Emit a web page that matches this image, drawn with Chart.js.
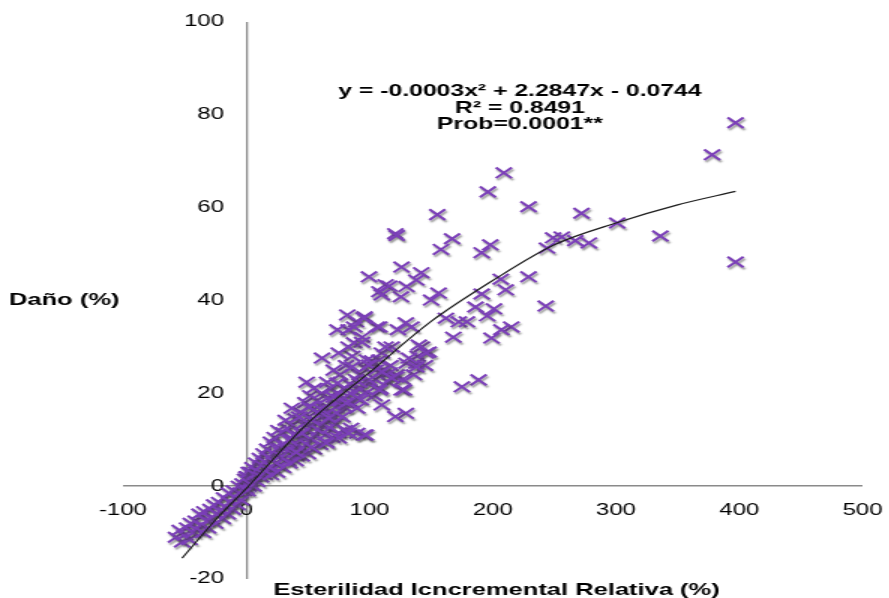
<!DOCTYPE html>
<html lang="es">
<head>
<meta charset="UTF-8">
<title>Daño vs Esterilidad Incremental Relativa</title>
<script src="https://cdn.jsdelivr.net/npm/chart.js"></script>
<style>
  html, body { margin: 0; padding: 0; background: #fff; overflow: hidden; }
  /* the original picture is stretched sideways, so is this one */
  #lienzo { width: 593px; height: 598px; transform: scaleX(1.5); transform-origin: 0 0; }
</style>
</head>
<body>
<div id="lienzo"><canvas id="grafico" width="593" height="598"></canvas></div>
<script>
// ticks
const ticksX = [-100, 0, 100, 200, 300, 400, 500];
const ticksY = [-20, 0, 20, 40, 60, 80, 100];

const puntosNegativos = [
  [-57,-11],[-54,-9.5],[-52,-12],[-50,-10.5],[-48,-9],[-46,-11.5],[-45,-8],[-43,-10],[-41,-7.5],[-40,-9.5],
  [-38,-6],[-37,-8.5],[-35,-10],[-34,-5.5],[-32,-7.5],[-31,-9],[-29,-5],[-28,-7],[-26,-4],[-25,-8],
  [-24,-6],[-22,-3.5],[-21,-5.5],[-19,-7],[-18,-2.5],[-17,-4.5],[-15,-6],[-14,-1.5],[-13,-3.5],[-11,-5],
  [-10,-1],[-9,-2.5],[-7,-4],[-6,0],[-5,-1.5],[-4,-3],[-3,0.5],[-2,-1],[-1,1.5],[0,-0.5],
  [1,2],[2,0],[3,1],[4,3]
];

const puntosBanda = [
  [0,2],[1,-1],[2,3],[3,0.5],[5,4],[6,0],[7,2.5],[8,5],[9,1],[10,3],[11,6],[12,2],[13,4.5],[14,7],[15,2.5],
  [16,5],[17,8],[18,3.5],[19,6],[20,9.5],[21,4],[22,7],[23,10.5],[24,5],[25,8],[26,12],[27,4.5],[28,6.5],
  [29,9],[30,11.5],[31,6],[32,8],[33,12.5],[34,5.5],[35,7.5],[36,10],[37,13],[38,8.5],[39,11],[40,14.5],
  [41,6.5],[42,9],[43,12],[44,16],[45,8],[46,10.5],[47,13.5],[48,18],[49,9],[50,12],[51,15],[52,19.5],
  [53,10],[54,13],[55,16.5],[56,11],[57,14],[58,18.5],[59,12],[60,15.5],[61,20],[62,13],[63,17],[64,11],
  [65,14],[66,19],[67,16],[68,12.5],[69,21],[70,15],[71,18],[72,13.5],[73,17],[74,20],[75,15.5],[76,24],
  [77,18.5],[79,21],[80,17],[81,26],[82,19.5],[84,22],[85,18],[86,28],[87,20.5],
  [89,23],[90,19],[92,24],[93,21],[96,25.5],[97,20],[100,22],[102,27],
  [104,19.5],[105,23],[109,21],[111,25],[115,22.5],[117,26],[122,24],
  [127,23],[130,26.5],[136,24],[139,28],[145,26],
  [20,2.5],[25,3],[30,4],[35,5],[40,5.5],[45,6.5],[50,7],[55,8],[60,9],[65,9.5],[70,10.5],[75,11.5],
  [80,12],[85,12.5]
];

const puntosDispersos = [
  [397,78.3],[378,71.4],[397,48.3],[336,53.9],[301,56.7],[272,58.8],[229,60.2],[209,67.5],[196,63.4],
  [155,58.5],[121,54.4],[122,54],[167,53.3],[158,51],[198,52],[191,50.3],[249,53.5],[256,53.7],[267,52.9],
  [278,52.4],[244,51.3],[126,47.2],[142,46],[138,44.4],[113,43.4],[130,43],[125.5,40.8],[108,41.9],
  [229,45.1],[206.5,44.6],[210.5,42.3],[156,41.6],[150,40.1],[191,41.4],[243,38.8],[186,38.6],[201,38.2],
  [195.5,36.7],[162,36.2],[172.5,35.4],[179,35.4],[129.5,35.2],[134,34.3],[215,34.3],[207,33.7],[168,32.1],
  [199,31.9],[142.5,30],[148,28.9],[188.5,22.9],[175,21.4],[126,20.7],[108,27.2],[116,24.4],[138,26.5],
  [99.6,45.1],[116,43.1],[110,41.2],[96,36.5],[89,35.4],[106,34.3],[123,33.7],[140,30.4],[118,30],
  [110,28.7],[98,27.2],[94,32.1],[83,33.7],[87.5,30.9],[121.5,23.5],[105,25],[99.6,22.9],[82,36.9],
  [95.5,36.2],[108,34.3],[74,33.7],[87.5,34.3],[94,31],[83,30],[61.5,27.6],[75,28.7],[113,30],[146,28.7],
  [132,27.6],[138,25.7],[110,24.6],[86,25.7],[99.6,26.1],[71,25],[49,22.4],[55,21.1],[65.6,22.4],[74,22.2],
  [91.5,22.4],[118,23.3],[128,20.7],[71,19.2],[110,17.5],[129.5,15.7],[93,18.6],[81,17.9],[90,16.8],
  [37,16.8],[51,17],[61.5,16.4],[32,14.2],[43,14.9],[53.4,14.2],[67,14.7],[78,14.9],[90,11.4],[75,10.4],
  [95.5,11],[65,9.3],[45,11.4],[35,9.9],[53,8.4],[40.5,7.3],[83,11.4],[97,11],[108,20.7],[121,15]
];

// polynomial trend line as drawn
const tendenciaX = [-52, -25, 0, 50, 100, 150, 200, 250, 300, 350, 397];
const tendenciaY = [-15.5, -7.3, -0.5, 13.6, 24.5, 35.5, 44.3, 52, 56.7, 60.6, 63.5];

const ecuacion = ['y = -0.0003x\u00b2 + 2.2847x - 0.0744', 'R\u00b2 = 0.8491', 'Prob=0.0001**'];
const tituloX = 'Esterilidad Icncremental Relativa (%)';
const tituloY = 'Daño (%)';

const puntos = puntosNegativos.concat(puntosBanda, puntosDispersos).map(p => ({x: p[0], y: p[1]}));
const tendencia = tendenciaX.map((x, i) => ({x: x, y: tendenciaY[i]}));

const fuente = '"Liberation Sans", Arial, sans-serif';

// grey drop shadow under the crosses
const sombra = {
  id: 'sombra',
  beforeDatasetDraw(chart, args) {
    if (args.index !== 1) return;
    const ctx = chart.ctx;
    ctx.save();
    ctx.shadowColor = 'rgba(60,60,60,0.5)';
    ctx.shadowOffsetX = 1;
    ctx.shadowOffsetY = 2;
    ctx.shadowBlur = 1.5;
  },
  afterDatasetDraw(chart, args) {
    if (args.index !== 1) return;
    chart.ctx.restore();
  }
};

// equation box and axis titles
const textos = {
  id: 'textos',
  afterDraw(chart) {
    const ctx = chart.ctx;
    const sx = chart.scales.x, sy = chart.scales.y;
    ctx.save();
    ctx.fillStyle = '#000';
    ctx.textBaseline = 'middle';
    ctx.textAlign = 'center';
    ctx.font = 'bold 16.5px ' + fuente;
    const cx = sx.getPixelForValue(222);
    const cy = sy.getPixelForValue(85);
    ecuacion.forEach((t, i) => ctx.fillText(t, cx, cy + i * 16.5));
    ctx.font = 'bold 17px ' + fuente;
    ctx.fillText(tituloX, 331, 590);
    ctx.textAlign = 'left';
    ctx.fillText(tituloY, 6, sy.getPixelForValue(40));
    ctx.restore();
  }
};

const ejeLinea = (ancho) => ({
  drawTicks: false,
  lineWidth: ancho,
  color: c => (c.tick && c.tick.value === 0) ? '#8a8a8a' : 'rgba(0,0,0,0)'
});

new Chart(document.getElementById('grafico'), {
  type: 'scatter',
  data: {
    datasets: [
      {
        data: tendencia,
        showLine: true,
        borderColor: '#1e1e1e',
        borderWidth: 1.2,
        pointRadius: 0,
        tension: 0.4,
        cubicInterpolationMode: 'monotone',
        order: 0
      },
      {
        data: puntos,
        pointStyle: 'crossRot',
        pointRadius: 7.5,
        borderColor: '#7b3fb8',
        backgroundColor: '#7b3fb8',
        borderWidth: 2,
        order: 1
      }
    ]
  },
  options: {
    responsive: false,
    animation: false,
    devicePixelRatio: 1,
    layout: { padding: { left: 82, right: 18, top: 22, bottom: 19 } },
    plugins: { legend: { display: false }, tooltip: { enabled: false } },
    scales: {
      x: {
        type: 'linear',
        min: -100, max: 500,
        position: { y: 0 },
        afterBuildTicks: s => { s.ticks = ticksX.map(v => ({ value: v })); },
        afterFit: s => { s.height = 0; s.paddingLeft = 0; s.paddingRight = 0; },
        grid: ejeLinea(1.3),
        border: { display: false },
        ticks: { padding: 15, color: '#000', font: { family: fuente, size: 16 }, maxRotation: 0, autoSkip: false }
      },
      y: {
        type: 'linear',
        min: -20, max: 100,
        // labels sit a little left of the zero line, as in the original
        position: { x: -18 },
        afterBuildTicks: s => { s.ticks = ticksY.map(v => ({ value: v })); },
        afterFit: s => { s.width = 0; s.paddingTop = 0; s.paddingBottom = 0; },
        grid: ejeLinea(1.5),
        border: { display: false },
        ticks: { color: '#000', font: { family: fuente, size: 16 }, autoSkip: false }
      }
    }
  },
  plugins: [sombra, textos]
});
</script>
</body>
</html>
